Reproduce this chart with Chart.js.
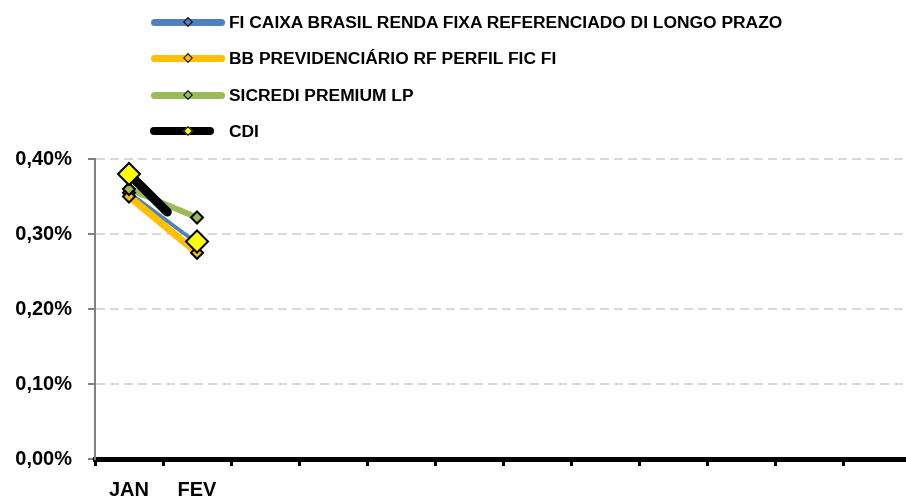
<!DOCTYPE html>
<html>
<head>
<meta charset="utf-8">
<script src="https://cdn.jsdelivr.net/npm/chart.js@4/dist/chart.umd.min.js"></script>
<style>
  html, body { margin: 0; padding: 0; background: #fff; overflow: hidden; width: 906px; height: 500px; }
  #c { position: absolute; left: 0; top: 0; }
  #legend { position: absolute; left: 0; top: 0; width: 906px; height: 150px; z-index: 2; font-family: "Liberation Sans", Arial, sans-serif; }
  .row { position: absolute; left: 0; height: 20px; }
  .sample { position: absolute; top: 50%; border-radius: 4px; }
  .dia { position: absolute; top: 50%; box-sizing: border-box; width: 7px; height: 7px; border: 1.5px solid #000; transform: translate(-50%, -50%) rotate(45deg); }
  .txt { position: absolute; left: 229px; top: 50%; transform: translateY(-50%); font-weight: bold; font-size: 17.4px; color: #000; white-space: nowrap; }
</style>
</head>
<body>
<canvas id="c" width="924" height="500" style="width:924px;height:500px"></canvas>
<div id="legend"></div>
<script>
// ---- data ----
const categories = ['JAN', 'FEV', '', '', '', '', '', '', '', '', '', ''];
const seriesNames = [
  'FI CAIXA BRASIL RENDA FIXA REFERENCIADO DI LONGO PRAZO',
  'BB PREVIDENCIÁRIO RF PERFIL FIC FI',
  'SICREDI PREMIUM LP',
  'CDI'
];
const caixa   = [0.355, 0.288];
const bb      = [0.350, 0.275];
const sicredi = [0.360, 0.322];
const cdi     = [0.380, 0.290];
const yTicks  = [0, 0.1, 0.2, 0.3, 0.4];

const seriesValues = [caixa, bb, sicredi, cdi];
const lineColors   = ['#4F81BD', '#FFC000', '#9BBB59', '#000000'];
const markerFills  = ['#4F81BD', '#FFC000', '#9BBB59', '#FFFF00'];
const lineWidths   = [4, 7, 6, 9];
const markerRadii  = [6, 6, 6, 11];

Chart.defaults.font.family = '"Liberation Sans", Arial, sans-serif';

const datasets = [];
// lines first (all lines under all markers)
seriesValues.forEach((vals, i) => {
  datasets.push({
    label: seriesNames[i],
    data: vals,
    borderColor: lineColors[i],
    borderWidth: lineWidths[i],
    borderDash: i === 3 ? [54, 400] : [],
    borderCapStyle: i === 3 ? 'round' : 'butt',
    pointRadius: 0,
    fill: false,
    tension: 0,
    order: 8 - i
  });
});
seriesValues.forEach((vals, i) => {
  datasets.push({
    label: seriesNames[i] + ' marker',
    data: vals,
    showLine: false,
    pointStyle: 'rectRot',
    pointRadius: markerRadii[i],
    pointBorderWidth: 2,
    pointBorderColor: '#000',
    pointBackgroundColor: markerFills[i],
    order: 4 - i
  });
});

new Chart(document.getElementById('c'), {
  type: 'line',
  data: { labels: categories, datasets },
  options: {
    responsive: false,
    animation: false,
    events: [],
    layout: { padding: { top: 159, left: 0, right: 1, bottom: 0 } },
    plugins: { legend: { display: false }, tooltip: { enabled: false } },
    scales: {
      x: {
        offset: true,
        grid: { offset: true, drawOnChartArea: false, color: '#000', lineWidth: 3, tickLength: 7 },
        border: { color: '#000', width: 5 },
        ticks: { color: '#000', font: { size: 20, weight: 'bold' }, padding: 12, maxRotation: 0, autoSkip: false },
        afterFit: s => { s.height = 41; }
      },
      y: {
        min: yTicks[0],
        max: yTicks[yTicks.length - 1],
        afterBuildTicks: s => { s.ticks = yTicks.map(v => ({ value: v })); },
        ticks: {
          color: '#000',
          font: { size: 20, weight: 'bold' },
          padding: 16,
          callback: v => v.toFixed(2).replace('.', ',') + '%'
        },
        grid: { color: '#D9D9D9', lineWidth: 2, tickColor: '#808080', tickLength: 7, tickBorderDash: [] },
        border: { color: '#808080', width: 2, dash: [9, 5] },
        afterFit: s => { s.width = 95; }
      }
    }
  }
});

// ---- legend (vertical list, as in the reference) ----
const legendRowsY = [22, 58, 95, 131];
const sampleSpan = [[151, 225], [151, 225], [151, 225], [150, 214]];
const sampleThick = [7, 7, 7, 8];
const legend = document.getElementById('legend');
seriesNames.forEach((name, i) => {
  const row = document.createElement('div');
  row.className = 'row';
  row.style.top = (legendRowsY[i] - 10) + 'px';
  row.style.width = '906px';
  const s = document.createElement('div');
  s.className = 'sample';
  s.style.left = sampleSpan[i][0] + 'px';
  s.style.width = (sampleSpan[i][1] - sampleSpan[i][0]) + 'px';
  s.style.height = sampleThick[i] + 'px';
  s.style.marginTop = (-sampleThick[i] / 2) + 'px';
  s.style.background = lineColors[i];
  const d = document.createElement('div');
  d.className = 'dia';
  d.style.left = '188px';
  d.style.background = markerFills[i];
  const t = document.createElement('div');
  t.className = 'txt';
  t.textContent = name;
  row.appendChild(s); row.appendChild(d); row.appendChild(t);
  legend.appendChild(row);
});
</script>
</body>
</html>
